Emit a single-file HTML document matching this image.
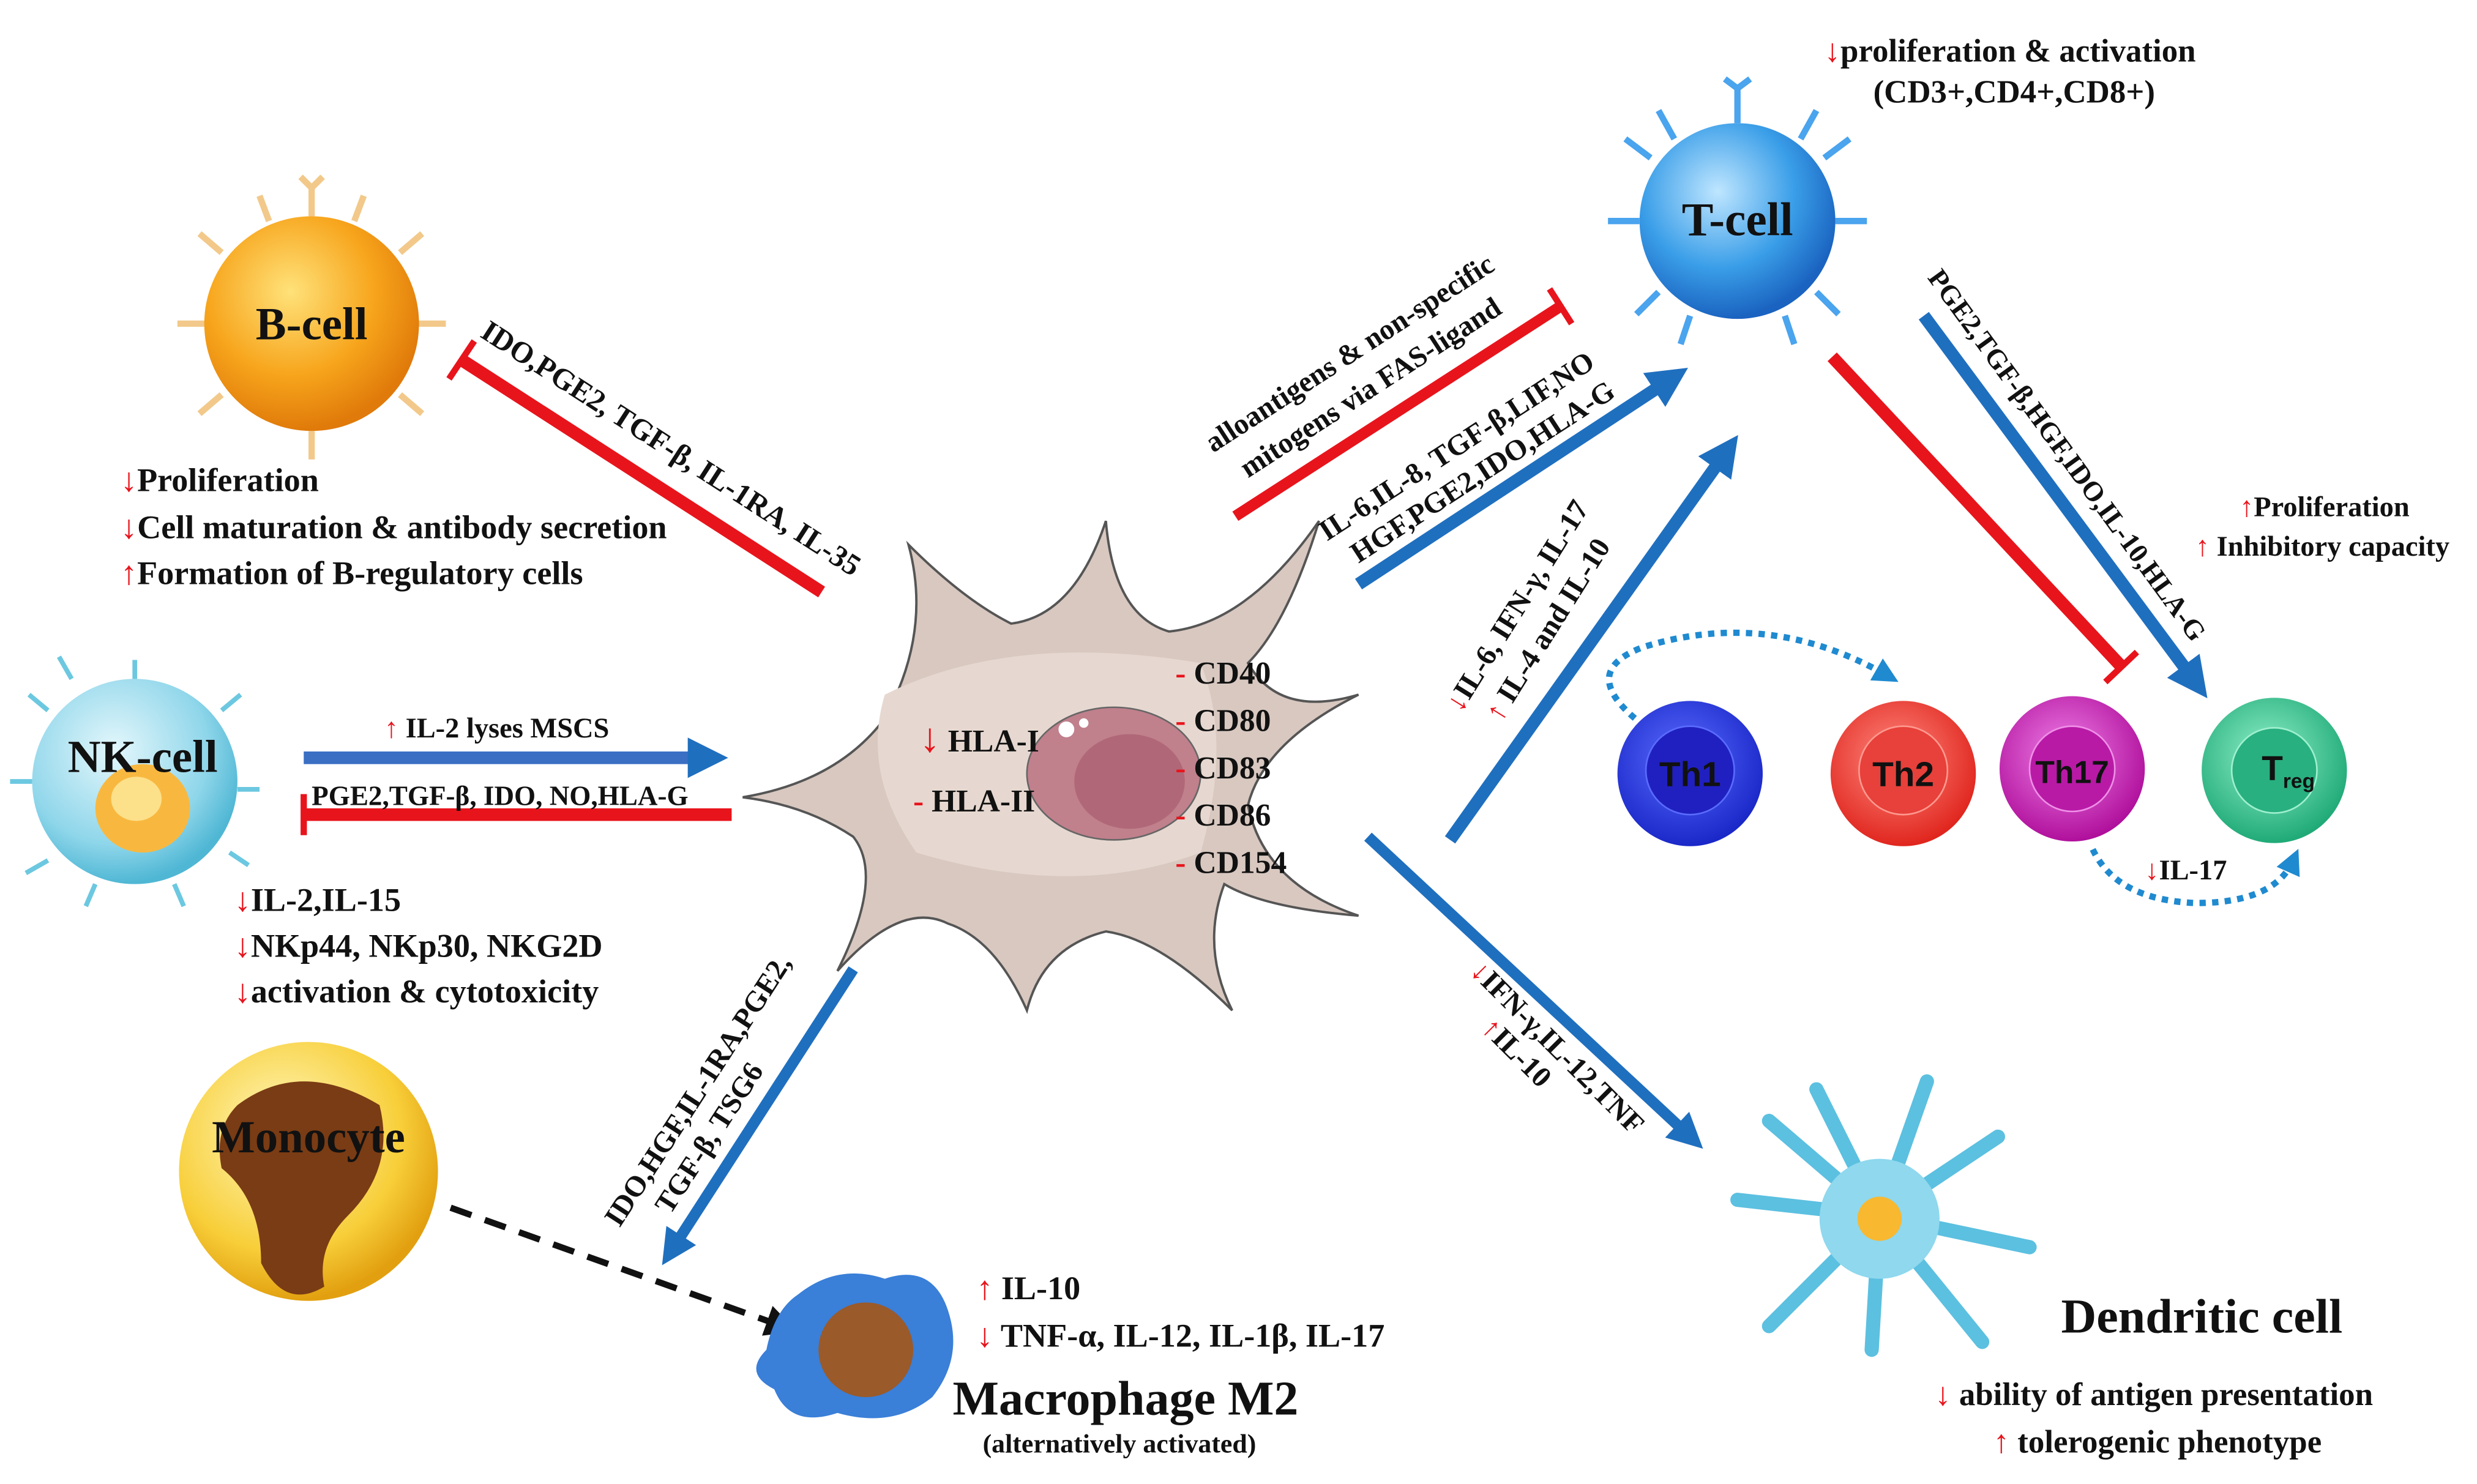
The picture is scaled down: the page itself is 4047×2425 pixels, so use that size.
<!DOCTYPE html>
<html><head><meta charset="utf-8"><style>
html,body{margin:0;padding:0;background:#fff;}
svg{display:block;}
text{font-family:"Liberation Serif",serif;font-weight:bold;fill:#111;}
.r{fill:#e8141c;}
</style></head><body>
<svg width="4047" height="2425" viewBox="0 0 1568 940" xmlns="http://www.w3.org/2000/svg">
<defs>
<radialGradient id="gB" cx="40%" cy="35%" r="65%"><stop offset="0" stop-color="#ffe27a"/><stop offset=".6" stop-color="#f7a51c"/><stop offset="1" stop-color="#e07a0a"/></radialGradient>
<radialGradient id="gT" cx="40%" cy="35%" r="65%"><stop offset="0" stop-color="#bfe6ff"/><stop offset=".6" stop-color="#3a9ee8"/><stop offset="1" stop-color="#1a63c0"/></radialGradient>
<radialGradient id="gNK" cx="40%" cy="35%" r="65%"><stop offset="0" stop-color="#e4f7fc"/><stop offset=".7" stop-color="#8fd6ea"/><stop offset="1" stop-color="#4fb7d4"/></radialGradient>
<radialGradient id="gM" cx="40%" cy="35%" r="65%"><stop offset="0" stop-color="#fff8c0"/><stop offset=".7" stop-color="#f8cf3a"/><stop offset="1" stop-color="#e2a010"/></radialGradient>
<radialGradient id="gTh1" cx="45%" cy="40%" r="60%"><stop offset="0" stop-color="#5a6cff"/><stop offset="1" stop-color="#1a28c8"/></radialGradient>
<radialGradient id="gTh2" cx="45%" cy="40%" r="60%"><stop offset="0" stop-color="#ff8a80"/><stop offset="1" stop-color="#e0261e"/></radialGradient>
<radialGradient id="gTh17" cx="45%" cy="40%" r="60%"><stop offset="0" stop-color="#f080e8"/><stop offset="1" stop-color="#b0109c"/></radialGradient>
<radialGradient id="gTr" cx="45%" cy="40%" r="60%"><stop offset="0" stop-color="#90f0c8"/><stop offset="1" stop-color="#20aa78"/></radialGradient>
<marker id="ab" viewBox="0 0 10 10" refX="5" refY="5" markerWidth="3.2" markerHeight="3.2" orient="auto"><path d="M0,0L10,5L0,10z" fill="#1f6fbf"/></marker>
<marker id="ak" viewBox="0 0 10 10" refX="5" refY="5" markerWidth="5" markerHeight="5" orient="auto"><path d="M0,0L10,5L0,10z" fill="#111"/></marker>
<marker id="ad" viewBox="0 0 10 10" refX="5" refY="5" markerWidth="4" markerHeight="4" orient="auto"><path d="M0,0L10,5L0,10z" fill="#1f8ad0"/></marker>
</defs>

<!-- B-cell -->
<g stroke="#f2c98a" stroke-width="4" fill="none">
<path d="M197,137 v-18 M190,112 l7,7 l7,-7 M140,160 l-14,-12 M253,160 l14,-12 M130,205 h-18 M264,205 h18 M140,250 l-14,12 M253,250 l14,12 M197,273 v18 M170,140 l-6,-16 M224,140 l6,-16"/>
</g>
<circle cx="197" cy="205" r="68" fill="url(#gB)"/>
<text x="197" y="215" font-size="29" text-anchor="middle">B-cell</text>
<text x="76" y="311" font-size="21"><tspan class="r">↓</tspan>Proliferation</text>
<text x="76" y="341" font-size="21"><tspan class="r">↓</tspan>Cell maturation &amp; antibody secretion</text>
<text x="76" y="370" font-size="21"><tspan class="r">↑</tspan>Formation of B-regulatory cells</text>

<!-- B inhibit -->
<line x1="292" y1="228" x2="520" y2="375" stroke="#e8141c" stroke-width="8"/>
<line x1="284" y1="240" x2="300" y2="216" stroke="#e8141c" stroke-width="4"/>
<text font-size="19" transform="translate(303,213) rotate(32.8)">IDO,PGE2, TGF-β, IL-1RA, IL-35</text>

<!-- NK cell -->
<g stroke="#6cc8e0" stroke-width="3">
<path d="M30,450 l-12,-10 M45,430 l-8,-14 M140,450 l12,-10 M150,500 h14 M145,540 l12,8 M30,545 l-14,8 M20,495 h-14 M85,432 v-14 M60,560 l-6,14 M110,560 l6,14"/>
</g>
<circle cx="85" cy="495" r="65" fill="url(#gNK)"/>
<ellipse cx="90" cy="512" rx="30" ry="28" fill="#f8b840"/>
<ellipse cx="86" cy="506" rx="16" ry="14" fill="#fde08a"/>
<text x="90" y="489" font-size="29" text-anchor="middle">NK-cell</text>
<line x1="192" y1="480" x2="448" y2="480" stroke="#3a6fc4" stroke-width="8" marker-end="url(#ab)"/>
<text x="243" y="467" font-size="18"><tspan class="r">↑</tspan> IL-2 lyses MSCS</text>
<line x1="192" y1="516" x2="463" y2="516" stroke="#e8141c" stroke-width="8"/>
<line x1="192" y1="503" x2="192" y2="529" stroke="#e8141c" stroke-width="4"/>
<text x="197" y="510" font-size="17.5">PGE2,TGF-β, IDO, NO,HLA-G</text>
<text x="148" y="577" font-size="21"><tspan class="r">↓</tspan>IL-2,IL-15</text>
<text x="148" y="606" font-size="21"><tspan class="r">↓</tspan>NKp44, NKp30, NKG2D</text>
<text x="148" y="635" font-size="21"><tspan class="r">↓</tspan>activation &amp; cytotoxicity</text>

<!-- Monocyte -->
<circle cx="195" cy="742" r="82" fill="url(#gM)"/>
<path d="M150,700 Q190,670 240,700 Q250,740 220,770 Q200,790 205,815 Q180,830 165,800 Q165,760 140,740 Q135,715 150,700z" fill="#7a3c14"/>
<text x="195" y="730" font-size="29" text-anchor="middle">Monocyte</text>
<line x1="285" y1="765" x2="495" y2="840" stroke="#111" stroke-width="4" stroke-dasharray="14,9" marker-end="url(#ak)"/>

<!-- MSC -->
<path d="M470,505 Q530,495 560,455 Q590,400 575,345 Q610,380 640,395 Q680,390 700,330 Q705,390 740,400 Q790,395 835,330 Q815,395 790,420 Q810,455 860,440 Q800,470 790,510 Q800,560 860,580 Q800,575 775,560 Q760,600 780,640 Q735,595 700,590 Q660,600 650,640 Q630,595 600,585 Q570,570 530,615 Q560,555 540,530 Q510,510 470,505z" fill="#d8c8c0" stroke="#555" stroke-width="1.5"/>
<path d="M560,440 Q640,400 760,420 Q780,470 760,540 Q680,570 580,540 Q545,490 560,440z" fill="#e6d8d0"/>
<ellipse cx="705" cy="490" rx="55" ry="42" fill="#c0808c" stroke="#666" stroke-width="1"/>
<ellipse cx="715" cy="495" rx="35" ry="30" fill="#b06878"/>
<circle cx="675" cy="462" r="5" fill="#fff"/><circle cx="686" cy="458" r="3" fill="#fff"/>
<text x="582" y="476" font-size="20"><tspan class="r" font-size="26">↓</tspan> HLA-I</text>
<text x="578" y="514" font-size="20"><tspan class="r">-</tspan> HLA-II</text>
<text x="744" y="433" font-size="20"><tspan class="r">-</tspan> CD40</text>
<text x="744" y="463" font-size="20"><tspan class="r">-</tspan> CD80</text>
<text x="744" y="493" font-size="20"><tspan class="r">-</tspan> CD83</text>
<text x="744" y="523" font-size="20"><tspan class="r">-</tspan> CD86</text>
<text x="744" y="553" font-size="20"><tspan class="r">-</tspan> CD154</text>

<!-- to macrophage -->
<line x1="540" y1="614" x2="425" y2="792" stroke="#1f6fbf" stroke-width="7" marker-end="url(#ab)"/>
<text font-size="18.5" transform="translate(392,778) rotate(-57)">IDO,HGF,IL-1RA,PGE2,</text>
<text font-size="18.5" transform="translate(424,770) rotate(-57)">TGF-β, TSG6</text>

<!-- Macrophage -->
<path d="M505,820 Q530,800 560,810 Q590,800 600,830 Q610,860 590,885 Q565,905 530,895 Q500,905 490,880 Q470,870 485,855 Q490,830 505,820z" fill="#3a7fd8"/>
<circle cx="548" cy="855" r="30" fill="#9a5a2a"/>
<text x="618" y="823" font-size="21"><tspan class="r">↑</tspan> IL-10</text>
<text x="618" y="853" font-size="21"><tspan class="r">↓</tspan> TNF-α, IL-12, IL-1β, IL-17</text>
<text x="603" y="896" font-size="31">Macrophage M2</text>
<text x="622" y="920" font-size="17" font-weight="normal">(alternatively activated)</text>

<!-- T-cell region -->
<line x1="782" y1="327" x2="988" y2="194" stroke="#e8141c" stroke-width="7"/>
<line x1="981" y1="183" x2="995" y2="205" stroke="#e8141c" stroke-width="4"/>
<text font-size="18.5" transform="translate(768,287) rotate(-33)">alloantigens &amp; non-specific</text>
<text font-size="18.5" transform="translate(790,303) rotate(-33)">mitogens via FAS-ligand</text>
<line x1="860" y1="370" x2="1058" y2="240" stroke="#1f6fbf" stroke-width="8" marker-end="url(#ab)"/>
<text font-size="18.5" transform="translate(840,343) rotate(-33)">IL-6,IL-8, TGF-β,LIF,NO</text>
<text font-size="18.5" transform="translate(860,357) rotate(-33)">HGF,PGE2,IDO,HLA-G</text>

<g stroke="#4aa4ee" stroke-width="4" fill="none">
<path d="M1100,78 v-22 M1092,50 l8,6 l8,-6 M1045,100 l-16,-12 M1155,100 l16,-12 M1038,140 h-20 M1162,140 h20 M1050,185 l-14,14 M1150,185 l14,14 M1070,200 l-6,18 M1130,200 l6,18 M1060,88 l-10,-18 M1140,88 l10,-18"/>
</g>
<circle cx="1100" cy="140" r="62" fill="url(#gT)"/>
<text x="1100" y="149" font-size="30" text-anchor="middle">T-cell</text>
<text x="1155" y="39" font-size="20.5"><tspan class="r">↓</tspan>proliferation &amp; activation</text>
<text x="1186" y="65" font-size="20.5">(CD3+,CD4+,CD8+)</text>

<line x1="918" y1="532" x2="1093" y2="286" stroke="#1f6fbf" stroke-width="8" marker-end="url(#ab)"/>
<text font-size="18.5" transform="translate(925,452) rotate(-58)"><tspan class="r">↓</tspan>IL-6, IFN-γ, IL-17</text>
<text font-size="18.5" transform="translate(950,458) rotate(-58)"><tspan class="r">↑</tspan> IL-4 and IL-10</text>

<line x1="1160" y1="226" x2="1343" y2="422" stroke="#e8141c" stroke-width="8"/>
<line x1="1333" y1="432" x2="1353" y2="413" stroke="#e8141c" stroke-width="4"/>
<line x1="1218" y1="200" x2="1390" y2="432" stroke="#1f6fbf" stroke-width="8" marker-end="url(#ab)"/>
<text font-size="17.5" transform="translate(1220,176) rotate(54)">PGE2,TGF-β,HGF,IDO,IL-10,HLA-G</text>
<text x="1418" y="327" font-size="18"><tspan class="r">↑</tspan>Proliferation</text>
<text x="1390" y="352" font-size="18"><tspan class="r">↑</tspan> Inhibitory capacity</text>

<path d="M1035,455 Q1000,425 1040,410 Q1120,385 1195,428" stroke="#1f8ad0" stroke-width="4" fill="none" stroke-dasharray="4,4" marker-end="url(#ad)"/>

<circle cx="1070" cy="490" r="46" fill="url(#gTh1)"/><circle cx="1070" cy="488" r="28" fill="#2020c0" stroke="#5a6cff"/>
<text x="1070" y="498" font-size="22" text-anchor="middle" style="font-family:'Liberation Sans',sans-serif">Th1</text>
<circle cx="1205" cy="490" r="46" fill="url(#gTh2)"/><circle cx="1205" cy="488" r="28" fill="#e8403a" stroke="#ff9a90"/>
<text x="1205" y="498" font-size="22" text-anchor="middle" style="font-family:'Liberation Sans',sans-serif">Th2</text>
<circle cx="1312" cy="487" r="46" fill="url(#gTh17)"/><circle cx="1312" cy="487" r="27" fill="#b81aa6" stroke="#f090e8"/>
<text x="1312" y="496" font-size="20" text-anchor="middle" style="font-family:'Liberation Sans',sans-serif">Th17</text>
<circle cx="1440" cy="488" r="46" fill="url(#gTr)"/><circle cx="1440" cy="488" r="27" fill="#28b080" stroke="#a0f0d0"/>
<text x="1432" y="494" font-size="22" style="font-family:'Liberation Sans',sans-serif">T<tspan font-size="13" dy="5">reg</tspan></text>

<path d="M1325,538 Q1340,570 1390,572 Q1440,572 1452,545" stroke="#1f8ad0" stroke-width="4" fill="none" stroke-dasharray="4,4" marker-end="url(#ad)"/>
<text x="1358" y="557" font-size="18"><tspan class="r">↓</tspan>IL-17</text>

<!-- DC -->
<line x1="866" y1="530" x2="1070" y2="720" stroke="#1f6fbf" stroke-width="7" marker-end="url(#ab)"/>
<text font-size="18.5" transform="translate(930,616) rotate(45)"><tspan class="r">↓</tspan>IFN-γ,IL-12,TNF</text>
<text font-size="18.5" transform="translate(937,652) rotate(45)"><tspan class="r">↑</tspan>IL-10</text>

<g stroke="#5cc0e0" stroke-width="9" stroke-linecap="round" fill="none">
<path d="M1190,770 L1150,690 M1190,770 L1220,685 M1190,770 L1265,720 M1190,770 L1285,790 M1190,770 L1255,850 M1190,770 L1185,855 M1190,770 L1120,840 M1190,770 L1100,760 M1190,770 L1120,710"/>
</g>
<circle cx="1190" cy="772" r="38" fill="#8fd8ee"/>
<circle cx="1190" cy="772" r="14" fill="#f8b830"/>
<text x="1305" y="844" font-size="31">Dendritic cell</text>
<text x="1225" y="890" font-size="20.5"><tspan class="r">↓</tspan> ability of antigen presentation</text>
<text x="1262" y="920" font-size="20.5"><tspan class="r">↑</tspan> tolerogenic phenotype</text>
</svg>
</body></html>
